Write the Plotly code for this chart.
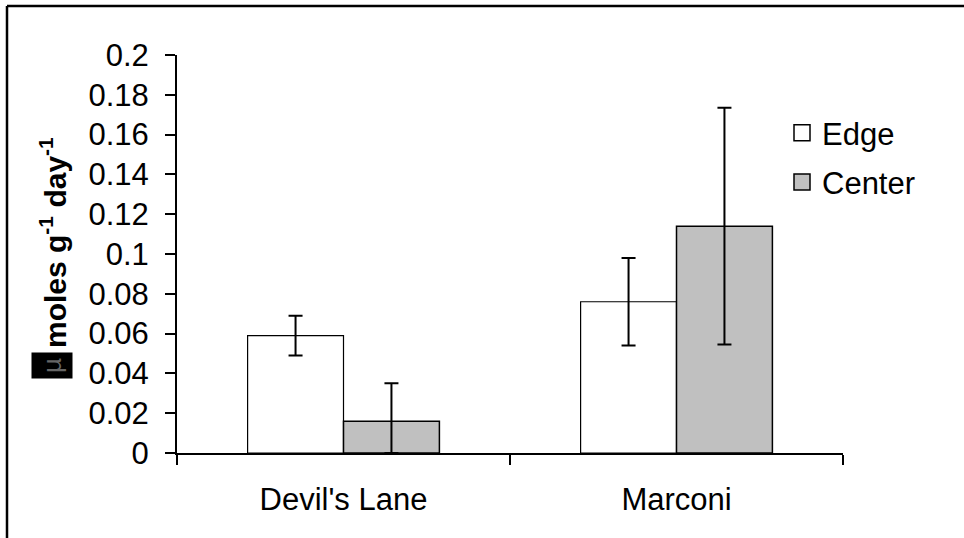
import plotly.graph_objects as go

categories = ["Devil's Lane", "Marconi"]
edge_vals = [0.059, 0.076]
edge_err = [0.010, 0.022]
center_vals = [0.016, 0.114]
center_err = [0.019, 0.0595]
center_err_minus = [0.016, 0.0595]
y_ticks = [0, 0.02, 0.04, 0.06, 0.08, 0.1, 0.12, 0.14, 0.16, 0.18, 0.2]
y_ticktext = ["0", "0.02", "0.04", "0.06", "0.08", "0.1", "0.12", "0.14", "0.16", "0.18", "0.2"]

W, H = 964, 538
L, R, T, B = 177, 121, 55, 85
pw, ph = W - L - R, H - T - B

def px_x(x):
    return (x - L) / pw

def px_y(y):
    return (H - B - y) / ph

FONT = "Liberation Sans, Arial, sans-serif"
EDGE_FILL = "white"
CENTER_FILL = "#C0C0C0"

fig = go.Figure()
fig.add_trace(go.Bar(
    name="Edge", x=categories, y=edge_vals, showlegend=False,
    marker=dict(color=EDGE_FILL, line=dict(color="black", width=1.2)),
    error_y=dict(type="data", array=edge_err, color="black", thickness=2, width=7),
))
fig.add_trace(go.Bar(
    name="Center", x=categories, y=center_vals, showlegend=False,
    marker=dict(color=CENTER_FILL, line=dict(color="black", width=1.5)),
    error_y=dict(type="data", array=center_err, arrayminus=center_err_minus,
                 symmetric=False, color="black", thickness=2, width=7),
))
# legend entries (square swatches)
for nm, col, grp in [("Edge", EDGE_FILL, "a"), ("Center", CENTER_FILL, "b")]:
    fig.add_trace(go.Scatter(
        name=nm, x=[None], y=[None], mode="markers", legendgroup=grp,
        marker=dict(symbol="square", size=16, color=col,
                    line=dict(color="black", width=1.5)),
    ))

fig.update_layout(
    width=W, height=H,
    margin=dict(l=L, r=R, t=T, b=B),
    paper_bgcolor="white", plot_bgcolor="white",
    barmode="group", bargap=0.424, bargroupgap=0,
    font=dict(family=FONT, size=31, color="black"),
    showlegend=True,
    legend=dict(x=px_x(782), y=px_y(106), xanchor="left", yanchor="top",
                font=dict(size=31), bgcolor="rgba(0,0,0,0)",
                tracegroupgap=6, traceorder="grouped", itemwidth=30),
    xaxis=dict(
        showline=True, linecolor="black", linewidth=2,
        ticks="outside", ticklen=10, tickwidth=2, tickcolor="black",
        tickson="boundaries", ticklabelstandoff=18,
        showgrid=False, zeroline=False,
        tickfont=dict(size=31),
    ),
    yaxis=dict(
        range=[0, 0.2], tickvals=y_ticks, ticktext=y_ticktext,
        showline=True, linecolor="black", linewidth=2,
        ticks="outside", ticklen=10, tickwidth=2, tickcolor="black",
        ticklabelstandoff=10,
        showgrid=False, zeroline=False,
        tickfont=dict(size=31),
    ),
)

# outer frame (partially visible)
fig.add_shape(type="line", xref="paper", yref="paper",
              x0=px_x(7), x1=px_x(1000), y0=px_y(6), y1=px_y(6),
              line=dict(color="black", width=2.5))
fig.add_shape(type="line", xref="paper", yref="paper",
              x0=px_x(7), x1=px_x(7), y0=px_y(6), y1=px_y(560),
              line=dict(color="black", width=2.5))

# y axis title
fig.add_annotation(
    text="<b>moles g<sup>-1</sup> day<sup>-1</sup></b>",
    xref="paper", yref="paper", x=px_x(53), y=px_y(243),
    xanchor="center", yanchor="middle", textangle=-90, showarrow=False,
    font=dict(size=30, family=FONT, color="black"),
)
fig.add_annotation(
    text="µ",
    xref="paper", yref="paper", x=px_x(52), y=px_y(366),
    xanchor="center", yanchor="middle", textangle=-90, showarrow=False,
    font=dict(size=26, family=FONT, color="#666666"),
    bgcolor="black", borderpad=5,
)

fig.write_html("out.html")
